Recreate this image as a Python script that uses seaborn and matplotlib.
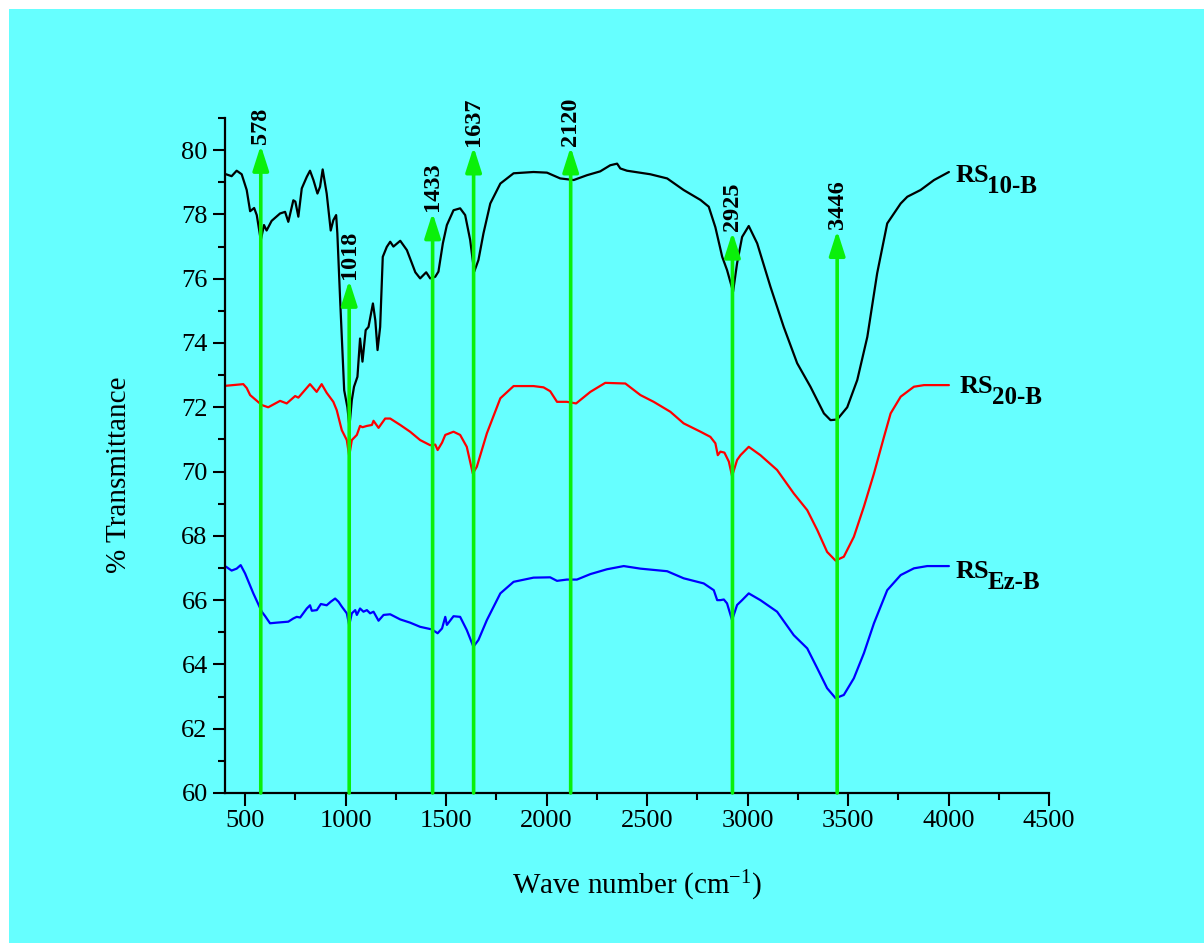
import numpy as np
import pandas as pd
import matplotlib
matplotlib.use("Agg")
import matplotlib.pyplot as plt
from matplotlib.patches import Rectangle
from matplotlib.ticker import MultipleLocator
import seaborn as sns

wn_10 = [405, 433, 458, 483, 508, 525, 545, 558, 578, 594, 607, 632, 674, 699, 715, 740, 750,
         765, 782, 807, 823, 840, 860, 873, 886, 906, 926, 939, 953, 959, 973, 993, 1009, 1019,
         1031, 1042, 1059, 1072, 1084, 1100, 1114, 1136, 1148, 1159, 1172, 1185, 1205, 1222,
         1238, 1272, 1305, 1330, 1347, 1371, 1401, 1421, 1446, 1462, 1484, 1504, 1537, 1570,
         1595, 1620, 1640, 1661, 1686, 1720, 1770, 1836, 1935, 2002, 2068, 2135, 2201, 2267,
         2317, 2351, 2367, 2400, 2516, 2600, 2682, 2766, 2807, 2840, 2874, 2898, 2928, 2948,
         2973, 3006, 3048, 3114, 3180, 3247, 3313, 3380, 3413, 3446, 3496, 3546, 3596, 3645,
         3695, 3762, 3795, 3861, 3928, 4002]
t_10 = [79.25, 79.19, 79.36, 79.25, 78.76, 78.1, 78.2, 77.98, 77.2, 77.67, 77.5, 77.8, 78.03,
        78.08, 77.77, 78.44, 78.4, 77.93, 78.81, 79.17, 79.36, 79.07, 78.65, 78.86, 79.4, 78.65,
        77.5, 77.82, 77.98, 77.41, 75.33, 72.53, 72.0, 71.4, 72.22, 72.64, 72.95, 74.14, 73.42,
        74.4, 74.5, 75.23, 74.7, 73.78, 74.5, 76.68, 76.99, 77.15, 77.0, 77.18, 76.89, 76.48,
        76.2, 76.01, 76.2, 76.01, 76.06, 76.22, 77.1, 77.67, 78.13, 78.19, 77.98, 77.2, 76.22,
        76.58, 77.41, 78.34, 78.96, 79.28, 79.32, 79.3, 79.12, 79.07, 79.22, 79.34, 79.53,
        79.58, 79.43, 79.36, 79.25, 79.12, 78.76, 78.45, 78.24, 77.6, 76.68, 76.27, 75.6, 76.48,
        77.3, 77.64, 77.1, 75.75, 74.5, 73.37, 72.64, 71.81, 71.6, 71.62, 72.0, 72.85, 74.19,
        76.17, 77.72, 78.34, 78.55, 78.76, 79.07, 79.32]

wn_20 = [405, 491, 508, 525, 583, 615, 674, 707, 749, 765, 823, 856, 881, 906, 939, 956, 981,
         1006, 1018, 1031, 1056, 1072, 1084, 1106, 1131, 1139, 1164, 1197, 1222, 1272, 1321,
         1371, 1421, 1446, 1458, 1480, 1496, 1537, 1570, 1603, 1633, 1653, 1703, 1770, 1836,
         1935, 1985, 2018, 2052, 2101, 2147, 2218, 2292, 2392, 2467, 2533, 2616, 2682, 2766,
         2815, 2840, 2852, 2865, 2885, 2907, 2923, 2948, 2965, 3006, 3064, 3147, 3230, 3297,
         3347, 3396, 3438, 3479, 3529, 3579, 3629, 3679, 3712, 3762, 3828, 3878, 4002]
t_20 = [72.67, 72.72, 72.6, 72.38, 72.07, 72.0, 72.2, 72.12, 72.35, 72.3, 72.72, 72.48, 72.72,
        72.45, 72.17, 71.91, 71.29, 70.98, 70.48, 70.98, 71.14, 71.42, 71.38, 71.42, 71.45,
        71.58, 71.36, 71.65, 71.65, 71.45, 71.24, 70.98, 70.82, 70.84, 70.67, 70.9, 71.14,
        71.24, 71.14, 70.77, 69.94, 70.15, 71.19, 72.28, 72.66, 72.66, 72.62, 72.5, 72.17,
        72.17, 72.12, 72.48, 72.76, 72.74, 72.38, 72.17, 71.86, 71.5, 71.24, 71.08, 70.88,
        70.51, 70.62, 70.59, 70.31, 69.86, 70.36, 70.51, 70.77, 70.51, 70.05, 69.32, 68.8,
        68.18, 67.5, 67.23, 67.35, 67.97, 68.91, 69.94, 71.08, 71.81, 72.33, 72.64, 72.69, 72.69]

wn_ez = [405, 433, 458, 478, 500, 541, 583, 600, 624, 657, 715, 740, 757, 774, 807, 823, 832,
         857, 877, 906, 926, 948, 965, 981, 1006, 1018, 1031, 1048, 1056, 1072, 1089, 1106,
         1122, 1139, 1164, 1189, 1222, 1272, 1321, 1371, 1429, 1458, 1480, 1496, 1504, 1537,
         1570, 1603, 1636, 1661, 1703, 1770, 1836, 1935, 2018, 2052, 2101, 2151, 2218, 2300,
         2384, 2467, 2600, 2682, 2782, 2832, 2849, 2865, 2882, 2898, 2923, 2948, 2973, 3006,
         3064, 3147, 3230, 3297, 3347, 3396, 3438, 3479, 3529, 3579, 3629, 3695, 3762, 3828,
         3894, 4002]
t_ez = [67.04, 66.92, 66.98, 67.09, 66.83, 66.21, 65.64, 65.5, 65.28, 65.3, 65.33, 65.43, 65.48,
        65.46, 65.74, 65.84, 65.67, 65.69, 65.88, 65.84, 65.95, 66.05, 65.95, 65.8, 65.59, 65.22,
        65.59, 65.69, 65.54, 65.74, 65.64, 65.69, 65.59, 65.64, 65.36, 65.54, 65.56, 65.4, 65.3,
        65.17, 65.09, 64.97, 65.12, 65.48, 65.23, 65.5, 65.48, 65.07, 64.55, 64.76, 65.38, 66.21,
        66.57, 66.7, 66.71, 66.6, 66.64, 66.64, 66.81, 66.96, 67.06, 66.98, 66.9, 66.68, 66.52,
        66.31, 66.0, 66.0, 66.02, 65.9, 65.38, 65.85, 66.0, 66.21, 66.0, 65.64, 64.91, 64.5,
        63.88, 63.26, 62.95, 63.05, 63.57, 64.35, 65.28, 66.31, 66.78, 66.99, 67.06, 67.06]

series_names = ["RS10-B", "RS20-B", "RSEz-B"]
series_colors = ["black", "red", "blue"]

# peak markers: wave number and arrow tip height
peak_wn = [578, 1018, 1433, 1637, 2120, 2925, 3446]
peak_tip = [80.15, 75.95, 78.05, 80.1, 80.1, 77.45, 77.5]

# curve labels: main text, subscript, position
label_main = ["RS", "RS", "RS"]
label_sub = ["10-B", "20-B", "Ez-B"]
label_x = [4035, 4057, 4035]
label_y = [79.0, 72.45, 66.7]

df = pd.DataFrame({
    "wn": np.concatenate([wn_10, wn_20, wn_ez]),
    "T": np.concatenate([t_10, t_20, t_ez]),
    "sample": np.repeat(series_names, [len(wn_10), len(wn_20), len(wn_ez)]),
})

sns.set_theme(style="ticks")
plt.rcParams["font.family"] = ["Liberation Serif", "DejaVu Serif"]
plt.rcParams["mathtext.fontset"] = "custom"
plt.rcParams["mathtext.rm"] = "Liberation Serif"
plt.rcParams["mathtext.it"] = "Liberation Serif:italic"
plt.rcParams["mathtext.bf"] = "Liberation Serif:bold"
plt.rcParams["text.color"] = "black"
plt.rcParams["axes.labelcolor"] = "black"

cyan = "#66FFFF"
green = "#0AF00A"

fig = plt.figure(figsize=(12.04, 9.43), dpi=100, facecolor="white")
fig.patches.append(Rectangle((9 / 1204, -0.05), 1.05, 1.05 - 9 / 943, transform=fig.transFigure,
                             facecolor=cyan, edgecolor="none", zorder=-10))
ax = fig.add_axes([225 / 1204, 1 - 793 / 943, (1049 - 225) / 1204, (793 - 118) / 943])
ax.set_facecolor("none")

sns.lineplot(data=df, x="wn", y="T", hue="sample", palette=series_colors, sort=False,
             estimator=None, linewidth=1.6, legend=False, ax=ax)

for x, tip in zip(peak_wn, peak_tip):
    ax.annotate("", xy=(x, tip), xytext=(x, 60),
                arrowprops=dict(arrowstyle="-|>,head_length=0.75,head_width=0.24",
                                color=green, lw=2.6, mutation_scale=20,
                                shrinkA=0, shrinkB=0), zorder=5)
    ax.annotate(str(x), xy=(x, tip), xytext=(0, 1), textcoords="offset points",
                rotation=90, ha="center", va="bottom", fontsize=17.5, fontweight="bold",
                zorder=6)

for m, s, x, y in zip(label_main, label_sub, label_x, label_y):
    ax.text(x, y, m, fontsize=19, fontweight="bold", ha="left", va="baseline",
            clip_on=False)
    ax.annotate(s, xy=(x, y), xytext=(23, -8), textcoords="offset points",
                fontsize=18, fontweight="bold", ha="left", va="baseline",
                annotation_clip=False)

ax.set_xlim(400, 4500)
ax.set_ylim(60, 81)
ax.xaxis.set_major_locator(MultipleLocator(500))
ax.xaxis.set_minor_locator(MultipleLocator(250))
ax.yaxis.set_major_locator(MultipleLocator(2))
ax.yaxis.set_minor_locator(MultipleLocator(1))
ax.tick_params(which="major", direction="out", length=9, width=1.5, labelsize=19,
               color="black", labelcolor="black")
ax.tick_params(which="minor", direction="out", length=5, width=1.5, color="black")
sns.despine(ax=ax)
for side in ["left", "bottom"]:
    ax.spines[side].set_linewidth(1.6)
    ax.spines[side].set_color("black")

ax.set_xlabel("Wave number (cm$^{-1}$)", fontsize=21, labelpad=26)
ax.set_ylabel("% Transmittance", fontsize=21)
ax.yaxis.set_label_coords(-0.113, 0.471)

fig.savefig("out.png", dpi=100, facecolor=fig.get_facecolor())
